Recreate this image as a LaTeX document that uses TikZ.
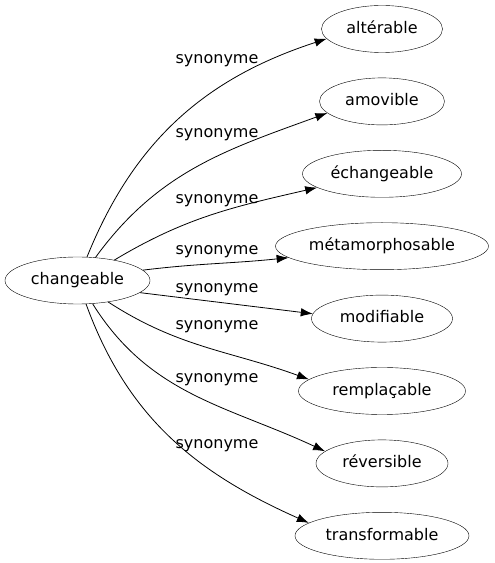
\documentclass[tikz,border=0pt]{standalone}
\usepackage{fontspec}
\setmainfont{DejaVu Sans}
\usetikzlibrary{shapes.geometric,positioning,arrows.meta}
\begin{document}
\begin{tikzpicture}[x=1pt,y=1pt,
  word/.style={draw,ellipse,minimum height=47pt,inner sep=0pt,
    text height=12pt,text depth=3.5pt,font=\fontsize{16}{19}\selectfont},
  syn/.style={inner sep=0pt,text height=12pt,text depth=3.5pt,
    font=\fontsize{16}{19}\selectfont},
  link/.style={-{Latex[length=12pt,width=8.5pt]},line width=0.8pt},
  node distance=25pt]
  \useasboundingbox (0,0) rectangle (495,563);

  \node[word,minimum width=145pt] (c) at (77.5,282.5) {changeable};

  \node[word,minimum width=121pt] (s1) at (382,534) {altérable};
  \node[word,minimum width=125pt,below=of s1] (s2) {amovible};
  \node[word,minimum width=159pt,below=of s2] (s3) {échangeable};
  \node[word,minimum width=213pt,below=of s3] (s4) {métamorphosable};
  \node[word,minimum width=141pt,below=of s4] (s5) {modifiable};
  \node[word,minimum width=167pt,below=of s5] (s6) {remplaçable};
  \node[word,minimum width=132pt,below=of s6] (s7) {réversible};
  \node[word,minimum width=174pt,below=of s7] (s8) {transformable};

  \node[syn] (l1) at (217,504) {synonyme};
  \node[syn] (l2) at (217,430) {synonyme};
  \node[syn] (l3) at (217,364) {synonyme};
  \node[syn] (l4) at (217,313) {synonyme};
  \node[syn] (l5) at (217,275) {synonyme};
  \node[syn] (l6) at (217,238) {synonyme};
  \node[syn] (l7) at (217,185) {synonyme};
  \node[syn] (l8) at (217,119) {synonyme};

  \draw[link] (c.68) to[out=68,in=198] (s1.190);
  \draw[link] (c.52) to[out=54,in=200] (s2.192);
  \draw[link] (c.29) to[out=31,in=193] (s3.192);
  \draw[link] (c.9) to[out=7,in=186] (s4.187);
  \draw[link] (c.-11) to[out=-7,in=173] (s5.176);
  \draw[link] (c.-35) to[out=-33,in=160] (s6.171);
  \draw[link] (c.-57) to[out=-58,in=155] (s7.168);
  \draw[link] (c.-70) to[out=-70,in=156] (s8.170);
\end{tikzpicture}
\end{document}
